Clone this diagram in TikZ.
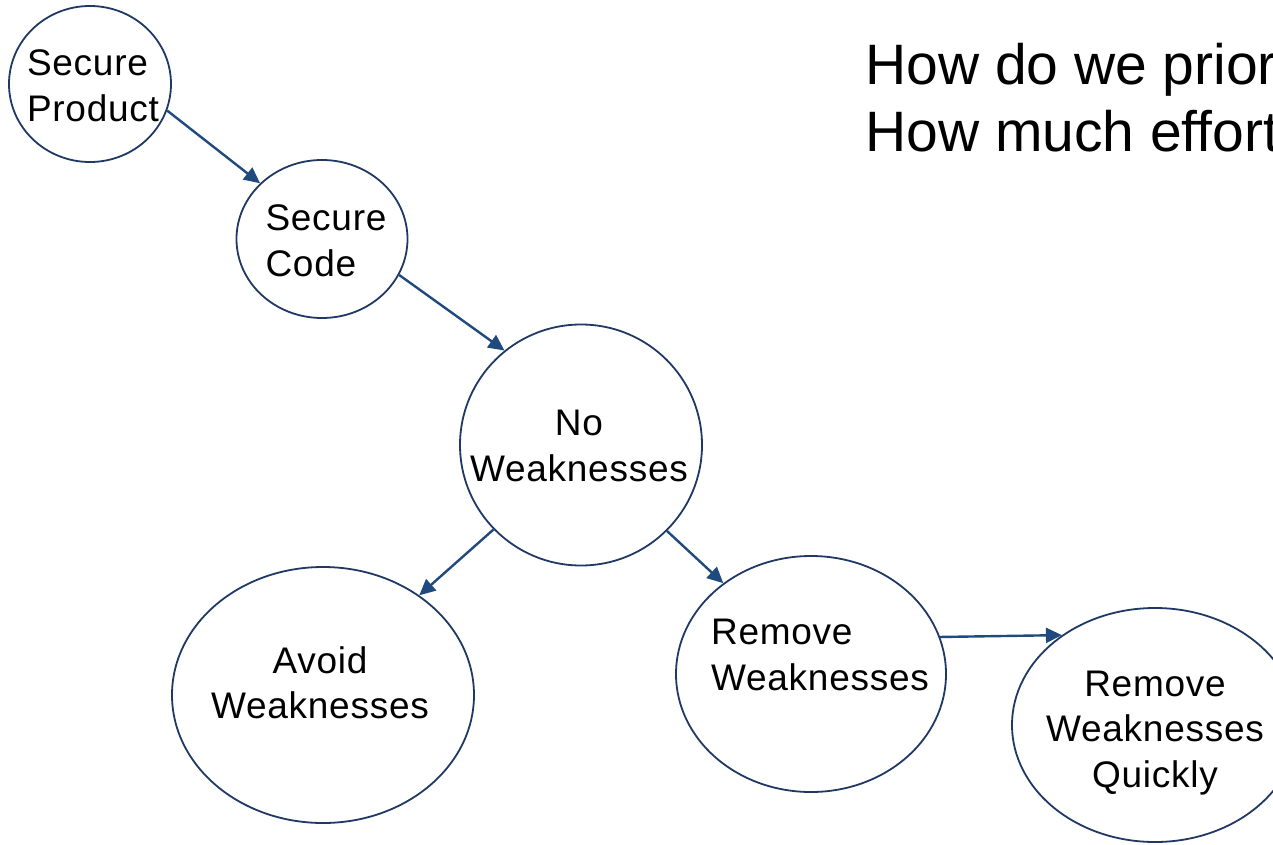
\documentclass[tikz,border=0pt]{standalone}
\usepackage{fontspec}
\setmainfont{Liberation Sans}
\usepackage{xcolor}
\usetikzlibrary{shapes.geometric,arrows.meta}
\definecolor{edgeblue}{HTML}{1F3864}
\definecolor{arrowblue}{HTML}{1F4A7D}

\begin{document}
\begin{tikzpicture}[x=1pt,y=-1pt,
    bubble/.style={draw=edgeblue, line width=1.8pt, ellipse, inner sep=0pt},
    label/.style={inner sep=0pt, font=\fontsize{37}{45.5}\selectfont\addfontfeature{LetterSpace=2}},
    arr/.style={draw=arrowblue, line width=2.4pt, -{Triangle[length=16pt,width=15pt]}}]
    \useasboundingbox (0,0) rectangle (1273,845);
    \clip (0,0) rectangle (1273,845);

    \node[bubble, minimum width=162pt, minimum height=156pt] (prod) at (90,84) {};
    \node[bubble, minimum width=171pt, minimum height=158pt] (code) at (322,239) {};
    \node[bubble, minimum width=242pt, minimum height=241pt] (nw) at (581,445) {};
    \node[bubble, minimum width=302pt, minimum height=256pt] (avoid) at (323,695) {};
    \node[bubble, minimum width=270pt, minimum height=236pt] (rw) at (811,674) {};
    \node[bubble, minimum width=286pt, minimum height=234pt] (qw) at (1155,725) {};

    \node[label, align=left] (prodtxt) at (93,86) {Secure\\Product};
    \node[label, align=left] (codetxt) at (326,241) {Secure\\Code};
    \node[label, align=center] (nwtxt) at (579,446) {No\\Weaknesses};
    \node[label, align=center] (avoidtxt) at (320,683) {Avoid\\Weaknesses};
    \node[label, align=left] (rwtxt) at (820,655) {Remove\\Weaknesses};
    \node[label, align=center] (qwtxt) at (1155,733) {Remove\\Weaknesses\\Quickly};

    % question on the right, runs off the edge
    \node[anchor=north west, inner sep=0pt, align=left,
          font=\fontsize{57}{67}\selectfont] (question) at (865,43)
          {How do we prior\\How much effort};

    \draw[arr] (prod.-19) -- (code.138);
    \draw[arr] (code.-25) -- (nw.129);
    \draw[arr] (nw.224) -- (avoid.46);
    \draw[arr] (nw.-45) -- (rw.134);
    \draw[arr] (rw.16) -- (qw.136.5);
\end{tikzpicture}
\end{document}
